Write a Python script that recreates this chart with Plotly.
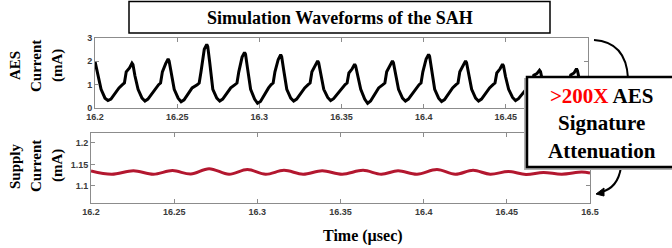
import plotly.graph_objects as go

# ---------------- data ----------------
aes_time = [
    16.2000, 16.2018, 16.2037, 16.2061, 16.2079, 16.2097, 16.2122, 16.2146,
    16.2167, 16.2179, 16.2190, 16.2210, 16.2225, 16.2231,
    16.2243, 16.2262, 16.2286, 16.2304, 16.2322, 16.2347, 16.2371,
    16.2387, 16.2399, 16.2410, 16.2430, 16.2445, 16.2451,
    16.2463, 16.2482, 16.2506, 16.2524, 16.2542, 16.2567, 16.2591,
    16.2622, 16.2634, 16.2645, 16.2665, 16.2680, 16.2686,
    16.2698, 16.2717, 16.2741, 16.2759, 16.2777, 16.2802, 16.2826,
    16.2852, 16.2864, 16.2875, 16.2895, 16.2910, 16.2916,
    16.2928, 16.2947, 16.2971, 16.2989, 16.3007, 16.3032, 16.3056,
    16.3072, 16.3084, 16.3095, 16.3115, 16.3130, 16.3136,
    16.3148, 16.3167, 16.3191, 16.3209, 16.3227, 16.3252, 16.3276,
    16.3297, 16.3309, 16.3320, 16.3340, 16.3355, 16.3361,
    16.3373, 16.3392, 16.3416, 16.3434, 16.3452, 16.3477, 16.3501,
    16.3522, 16.3534, 16.3545, 16.3565, 16.3580, 16.3586,
    16.3598, 16.3617, 16.3641, 16.3659, 16.3677, 16.3702, 16.3726,
    16.3752, 16.3764, 16.3775, 16.3795, 16.3810, 16.3816,
    16.3828, 16.3847, 16.3871, 16.3889, 16.3907, 16.3932, 16.3956,
    16.3972, 16.3984, 16.3995, 16.4015, 16.4030, 16.4036,
    16.4048, 16.4067, 16.4091, 16.4109, 16.4127, 16.4152, 16.4176,
    16.4197, 16.4209, 16.4220, 16.4240, 16.4255, 16.4261,
    16.4273, 16.4292, 16.4316, 16.4334, 16.4352, 16.4377, 16.4401,
    16.4422, 16.4434, 16.4445, 16.4465, 16.4480, 16.4486,
    16.4498, 16.4517, 16.4541, 16.4559, 16.4577, 16.4602, 16.4626,
    16.4647, 16.4659, 16.4670, 16.4690, 16.4705, 16.4711,
    16.4723, 16.4742, 16.4766, 16.4784, 16.4802, 16.4827, 16.4851,
    16.4872, 16.4884, 16.4895, 16.4915, 16.4930, 16.4936,
    16.4948, 16.4967, 16.4991, 16.5000,
]
aes_current = [
    2.00, 1.45, 0.80, 0.42, 0.32, 0.38, 0.62, 0.86,
    1.00, 1.07, 1.55, 1.72, 1.92, 1.86,
    1.38, 0.80, 0.42, 0.30, 0.38, 0.62, 0.86,
    1.00, 1.07, 1.55, 1.90, 2.10, 2.02,
    1.50, 0.80, 0.42, 0.27, 0.35, 0.62, 0.86,
    1.00, 1.07, 1.55, 2.52, 2.72, 2.64,
    1.96, 0.80, 0.42, 0.30, 0.38, 0.62, 0.86,
    1.00, 1.07, 1.55, 2.18, 2.38, 2.30,
    1.71, 0.80, 0.38, 0.20, 0.28, 0.60, 0.86,
    1.00, 1.07, 1.55, 2.08, 2.28, 2.20,
    1.64, 0.80, 0.42, 0.30, 0.38, 0.62, 0.86,
    1.00, 1.07, 1.55, 1.82, 2.02, 1.94,
    1.45, 0.80, 0.45, 0.32, 0.40, 0.62, 0.86,
    1.00, 1.07, 1.50, 1.68, 1.88, 1.80,
    1.35, 0.80, 0.38, 0.20, 0.30, 0.60, 0.86,
    1.00, 1.07, 1.55, 1.82, 2.02, 1.94,
    1.45, 0.80, 0.42, 0.30, 0.38, 0.62, 0.86,
    1.00, 1.07, 1.55, 2.10, 2.30, 2.22,
    1.66, 0.80, 0.42, 0.28, 0.36, 0.62, 0.86,
    1.00, 1.07, 1.55, 1.82, 2.02, 1.94,
    1.45, 0.80, 0.42, 0.30, 0.38, 0.62, 0.86,
    1.00, 1.07, 1.50, 1.68, 1.88, 1.80,
    1.35, 0.80, 0.45, 0.32, 0.40, 0.62, 0.86,
    1.00, 1.07, 1.40, 1.48, 1.62, 1.56,
    1.17, 0.80, 0.42, 0.30, 0.38, 0.62, 0.86,
    1.00, 1.07, 1.42, 1.50, 1.68, 1.60,
    1.20, 0.80, 0.42, 0.38,
]

supply_time = [
    16.2000, 16.2125, 16.2255, 16.2375, 16.2490, 16.2600, 16.2710, 16.2830,
    16.2940, 16.3050, 16.3160, 16.3275, 16.3390, 16.3510, 16.3636, 16.3745,
    16.3846, 16.3960, 16.4080, 16.4190, 16.4297, 16.4400, 16.4510, 16.4615,
    16.4720, 16.4830, 16.4950, 16.5000,
]
supply_current = [
    1.1345, 1.1270, 1.1350, 1.1270, 1.1355, 1.1275, 1.1400, 1.1270,
    1.1380, 1.1270, 1.1360, 1.1270, 1.1350, 1.1270, 1.1360, 1.1270,
    1.1350, 1.1270, 1.1380, 1.1270, 1.1360, 1.1270, 1.1335, 1.1265,
    1.1310, 1.1270, 1.1320, 1.1300,
]

x_ticks = [16.2, 16.25, 16.3, 16.35, 16.4, 16.45, 16.5]
x_tick_labels = ["16.2", "16.25", "16.3", "16.35", "16.4", "16.45", "16.5"]
# the top panel's last label is hidden behind the callout box in the reference
x_tick_labels_top = ["16.2", "16.25", "16.3", "16.35", "16.4", "16.45", ""]
aes_ticks = [0, 1, 2, 3]
aes_tick_labels = ["0", "1", "2", "3"]
supply_ticks = [1.1, 1.15, 1.2]
supply_tick_labels = ["1.1", "1.15", "1.2"]

# ---------------- figure ----------------
W, H = 672, 248


def px(x):
    return x / W


def py(y):
    return 1 - y / H


SERIF = "Liberation Serif, Times New Roman, serif"
SANS = "Liberation Sans, Arial, sans-serif"

fig = go.Figure()
fig.add_trace(go.Scatter(x=aes_time, y=aes_current, mode="lines",
                         line=dict(color="#000000", width=3),
                         xaxis="x", yaxis="y", showlegend=False))
fig.add_trace(go.Scatter(x=supply_time, y=supply_current, mode="lines",
                         line=dict(color="#B3172F", width=3, shape="spline"),
                         xaxis="x2", yaxis="y2", showlegend=False))

axis_common = dict(showline=True, linecolor="#8c8c8c", linewidth=1, mirror="ticks",
                   ticks="inside", ticklen=4, tickcolor="#8c8c8c", showgrid=False,
                   zeroline=False, automargin=False,
                   tickfont=dict(family=SANS, size=9, color="#3a3a3a", weight="bold"))

fig.update_layout(
    width=W, height=H, margin=dict(l=0, r=0, t=0, b=0, autoexpand=False),
    paper_bgcolor="white", plot_bgcolor="white",
    xaxis=dict(domain=[px(95), px(588)], range=[16.2, 16.5], anchor="y",
               tickvals=x_ticks, ticktext=x_tick_labels_top, **axis_common),
    yaxis=dict(domain=[py(108), py(38)], range=[0, 3], anchor="x",
               tickvals=aes_ticks, ticktext=aes_tick_labels, **axis_common),
    xaxis2=dict(domain=[px(91), px(590)], range=[16.2, 16.5], anchor="y2",
                tickvals=x_ticks, ticktext=x_tick_labels, **axis_common),
    yaxis2=dict(domain=[py(203), py(133)], range=[1.06, 1.223], anchor="x2",
                tickvals=supply_ticks, ticktext=supply_tick_labels, **axis_common),
)

shapes = []
# title box
shapes.append(dict(type="rect", xref="paper", yref="paper",
                   x0=px(129), x1=px(550), y0=py(33), y1=py(1.5),
                   line=dict(color="#000", width=1.5), fillcolor="white", layer="above"))
# curved arrow from top plot into the callout box
shapes.append(dict(type="path", xref="paper", yref="paper", layer="above",
                   path=f"M {px(594)},{py(40)} Q {px(626)},{py(42)} {px(628)},{py(78)}",
                   line=dict(color="#000", width=2)))
# curved arrow from box down to bottom plot
shapes.append(dict(type="path", xref="paper", yref="paper", layer="above",
                   path=f"M {px(621)},{py(167)} Q {px(618)},{py(188)} {px(601)},{py(192)}",
                   line=dict(color="#000", width=2)))
shapes.append(dict(type="path", xref="paper", yref="paper", layer="above",
                   path=(f"M {px(596)},{py(194)} L {px(604)},{py(188)} "
                         f"L {px(604)},{py(196)} Z"),
                   line=dict(color="#000", width=1), fillcolor="#000"))
# callout box shadow + box
shapes.append(dict(type="rect", xref="paper", yref="paper", layer="above",
                   x0=px(525), x1=px(690), y0=py(169), y1=py(79),
                   line=dict(color="#b0b0b0", width=2), fillcolor="#b0b0b0"))
shapes.append(dict(type="rect", xref="paper", yref="paper", layer="above",
                   x0=px(527), x1=px(690), y0=py(167), y1=py(77),
                   line=dict(color="#000", width=2.5), fillcolor="white"))

center = dict(xref="paper", yref="paper", showarrow=False,
              xanchor="center", yanchor="middle")
annotations = [
    dict(text="<b>Simulation Waveforms of the SAH</b>", x=px(340), y=py(18),
         font=dict(family=SERIF, size=18, color="#000"), **center),
    dict(text='<b><span style="color:#ff0000">&gt;200X</span> AES<br>Signature<br>Attenuation</b>',
         x=px(602), y=py(123), font=dict(family=SERIF, size=21, color="#000"), **center),
    dict(text="<b>Time (µsec)</b>", x=px(363), y=py(236),
         font=dict(family=SERIF, size=16, color="#000"), **center),
]
for txt, xc, yc in [("AES", 15, 66), ("Current", 36, 66), ("(mA)", 57, 66),
                    ("Supply", 15, 166), ("Current", 36, 166), ("(mA)", 57, 166)]:
    annotations.append(dict(text=f"<b>{txt}</b>", x=px(xc), y=py(yc), textangle=-90,
                            font=dict(family=SERIF, size=15, color="#000"), **center))

fig.update_layout(shapes=shapes, annotations=annotations)
fig.write_html("out.html", config={"displayModeBar": False, "staticPlot": True},
               post_script="document.body.style.margin='0';")
